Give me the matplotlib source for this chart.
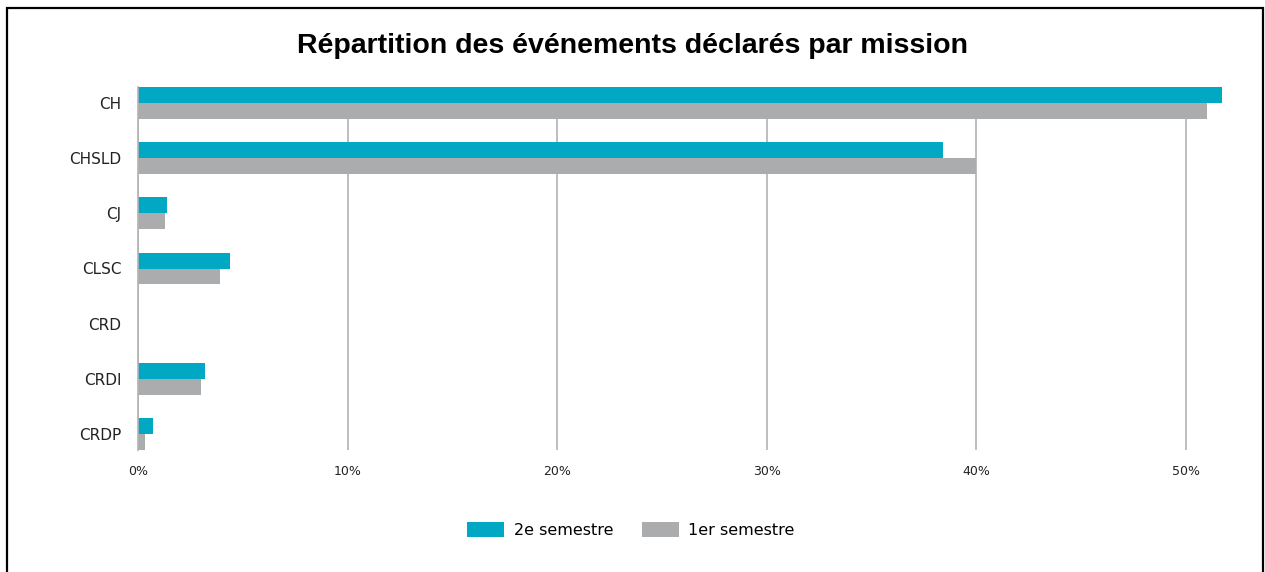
import numpy as np
import matplotlib.pyplot as plt
from matplotlib.patches import Rectangle
from matplotlib.ticker import PercentFormatter

# data
missions = ['CH', 'CHSLD', 'CJ', 'CLSC', 'CRD', 'CRDI', 'CRDP']
sem2 = [51.7, 38.4, 1.4, 4.4, 0.0, 3.2, 0.7]
sem1 = [51.0, 40.0, 1.3, 3.9, 0.0, 3.0, 0.35]

teal = '#00A8C4'
grey = '#ABACAE'

fig = plt.figure(figsize=(12.65, 5.72), dpi=100)
ax = fig.add_axes([138 / 1265, 1 - 450 / 572, (1228 - 138) / 1265, (450 - 87) / 572])

h = 0.29
y = np.arange(len(missions))
ax.barh(y - h / 2, sem2, height=h, color=teal, label='2e semestre', zorder=2)
ax.barh(y + h / 2, sem1, height=h, color=grey, label='1er semestre', zorder=2)

ax.set_ylim(len(missions) - 1 + h, -h)
ax.set_xlim(0, 52)
ax.set_yticks(y)
ax.set_yticklabels(missions, fontsize=11, color='#222222')
ax.set_xticks([0, 10, 20, 30, 40, 50])
ax.xaxis.set_major_formatter(PercentFormatter(decimals=0))
ax.tick_params(axis='x', labelsize=9, colors='#222222', length=0, pad=11)
ax.tick_params(axis='y', length=0, pad=12)
ax.grid(axis='x', color='#B3B3B3', linewidth=1.2, zorder=0)
for s in ['top', 'right', 'bottom']:
    ax.spines[s].set_visible(False)
ax.spines['left'].set_color('#B3B3B3')
ax.spines['left'].set_linewidth(1.2)

fig.text(0.5, 1 - 46 / 572, 'Répartition des événements déclarés par mission',
         ha='center', va='center', fontsize=20.5, fontweight='bold',
         family='Liberation Sans')

fig.legend(loc='center', bbox_to_anchor=(631 / 1265, 1 - 530 / 572), ncol=2,
           frameon=False, fontsize=11.5, handlelength=2.3, handleheight=1.1,
           columnspacing=1.8, handletextpad=0.6)

# frame around the chart (bottom edge runs off the picture)
fig.patches.append(Rectangle((7 / 1265, -0.05), (1263 - 7) / 1265, 1.05 - 8 / 572,
                             transform=fig.transFigure, fill=False,
                             edgecolor='black', linewidth=1.6))

fig.savefig('out.png', dpi=100)
